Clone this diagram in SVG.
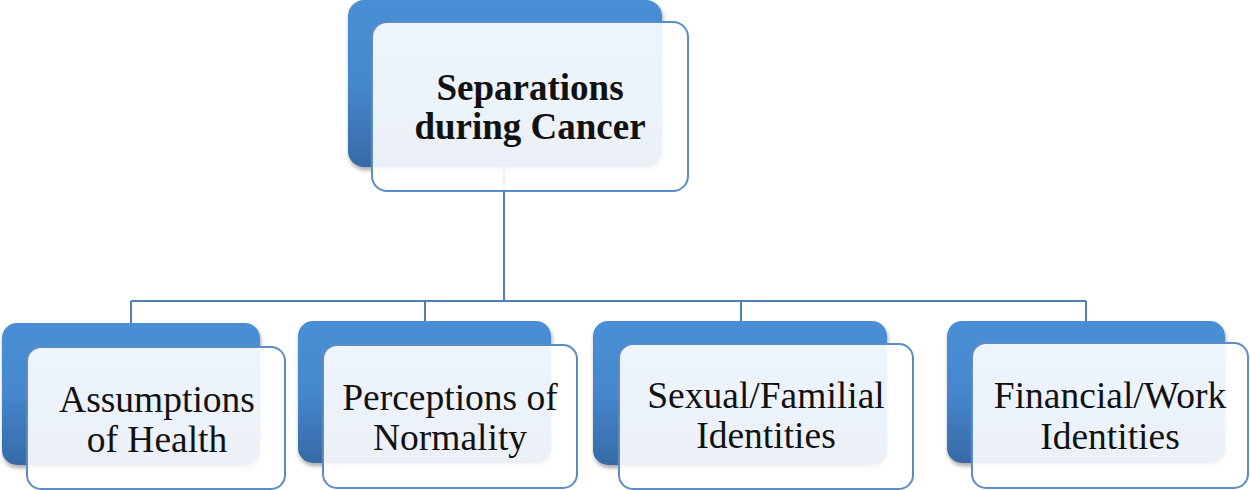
<svg xmlns="http://www.w3.org/2000/svg" width="1250" height="490" viewBox="0 0 1250 490">
<defs>
<linearGradient id="blue" x1="0" y1="0" x2="0" y2="1">
<stop offset="0" stop-color="#4a8fd5"/>
<stop offset="0.5" stop-color="#4587cd"/>
<stop offset="1" stop-color="#376aa6"/>
</linearGradient>
<filter id="sh" x="-5%" y="-5%" width="115%" height="120%">
<feGaussianBlur in="SourceAlpha" stdDeviation="2"/>
<feOffset dx="1" dy="3"/>
<feComponentTransfer><feFuncA type="linear" slope="0.35"/></feComponentTransfer>
<feMerge><feMergeNode/><feMergeNode in="SourceGraphic"/></feMerge>
</filter>
<style>
.back{fill:url(#blue);filter:url(#sh);}
.front{fill:#ffffff;fill-opacity:0.9;stroke:#5b8cc6;stroke-width:2;}
.conn{fill:none;stroke:#4f7fb3;stroke-width:2;}
.t{font-family:"Liberation Serif","Times New Roman",serif;font-size:37.5px;fill:#111;text-anchor:middle;}
.tb{font-weight:bold;font-size:37px;}
</style>
</defs>
<g id="connectors">
<path class="conn" d="M504,167 V301 M131,301 H1086 M131,301 V324 M425,301 V322 M741,301 V322 M1086,301 V322"/>
</g>
<g id="root">
<rect class="back" x="348" y="0" width="314" height="167" rx="16"/>
<rect class="front" x="372" y="22" width="316" height="169" rx="15"/>
<text class="t tb" x="530" y="100">Separations</text>
<text class="t tb" x="530" y="139">during Cancer</text>
</g>
<g id="n1">
<rect class="back" x="2" y="323" width="258" height="142" rx="15"/>
<rect class="front" x="27" y="347" width="258" height="142" rx="14"/>
<text class="t" x="157" y="412">Assumptions</text>
<text class="t" x="157" y="452">of Health</text>
</g>
<g id="n2">
<rect class="back" x="298" y="321" width="253" height="142" rx="15"/>
<rect class="front" x="323" y="345" width="254" height="143" rx="14"/>
<text class="t" x="450" y="410">Perceptions of</text>
<text class="t" x="450" y="450">Normality</text>
</g>
<g id="n3">
<rect class="back" x="593" y="321" width="294" height="144" rx="15"/>
<rect class="front" x="619" y="344" width="294" height="145" rx="14"/>
<text class="t" x="766" y="408">Sexual/Familial</text>
<text class="t" x="766" y="448">Identities</text>
</g>
<g id="n4">
<rect class="back" x="947" y="321" width="278" height="142" rx="15"/>
<rect class="front" x="972" y="343" width="276" height="145" rx="14"/>
<text class="t" x="1110" y="408">Financial/Work</text>
<text class="t" x="1110" y="449">Identities</text>
</g>
</svg>
